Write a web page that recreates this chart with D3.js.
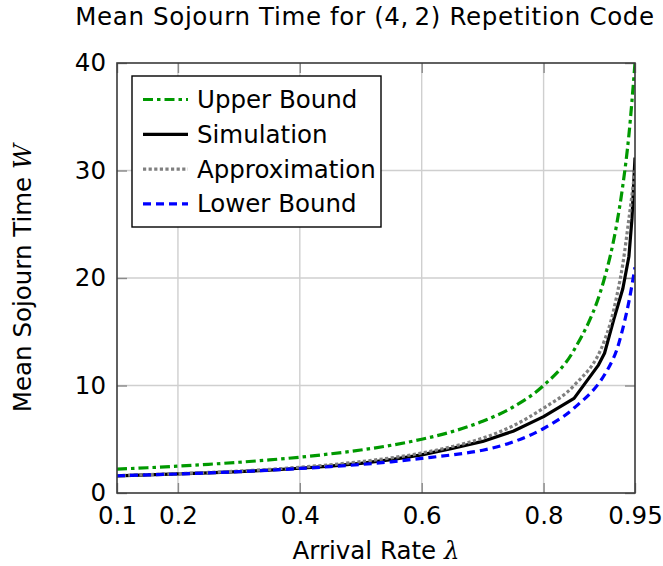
<!DOCTYPE html>
<html>
<head>
<meta charset="utf-8">
<script src="https://cdn.jsdelivr.net/npm/d3@7"></script>
<style>
    body { margin: 0; background: #fff; }
    #chart { width: 663px; height: 566px; }
    text { font-family: "DejaVu Sans", sans-serif; fill: #000; }
</style>
</head>
<body>
<div id="chart"></div>
<script>

// arrival rates for the analytic curves
const lambdas = [0.1, 0.15, 0.2, 0.25, 0.3, 0.35, 0.4, 0.45, 0.5, 0.55, 0.6, 0.65, 0.7, 0.75, 0.8, 0.85, 0.9, 0.91, 0.92, 0.93, 0.94, 0.95];
const upperBound = [2.22, 2.35, 2.5, 2.67, 2.86, 3.08, 3.33, 3.64, 4.0, 4.44, 5.0, 5.71, 6.67, 8.0, 10.0, 13.3, 20.0, 22.2, 25.0, 28.6, 33.3, 40.0];
const approximation = [1.62, 1.71, 1.8, 1.91, 2.04, 2.2, 2.4, 2.63, 2.92, 3.27, 3.72, 4.32, 5.1, 6.25, 7.9, 10.0, 14.2, 15.9, 18.3, 21.3, 25.5, 30.0];
const lowerBound = [1.6, 1.68, 1.77, 1.87, 1.98, 2.12, 2.28, 2.45, 2.65, 2.9, 3.22, 3.55, 3.98, 4.75, 6.0, 7.9, 11.0, 12.0, 13.3, 15.3, 17.8, 21.0];

// simulated points
const simLambdas = [0.1, 0.15, 0.2, 0.25, 0.3, 0.35, 0.4, 0.45, 0.5, 0.55, 0.6, 0.65, 0.7, 0.75, 0.8, 0.85, 0.89, 0.9, 0.915, 0.93, 0.94, 0.945, 0.95];
const simulation = [1.6, 1.68, 1.77, 1.87, 1.98, 2.12, 2.3, 2.5, 2.75, 3.1, 3.55, 4.15, 4.8, 5.75, 7.1, 8.8, 11.9, 13.0, 16.1, 19.0, 22.0, 25.5, 31.2];

const xTicks = [0.1, 0.2, 0.4, 0.6, 0.8, 0.95];
const yTicks = [0, 10, 20, 30, 40];

class SojournChart {

    constructor(parentElement) {
        this.parentElement = parentElement;
        this.initVis();
    }

    initVis() {
        let vis = this;

        vis.margin = {top: 63, right: 28, bottom: 73, left: 117};
        vis.width = 663 - vis.margin.left - vis.margin.right;
        vis.height = 566 - vis.margin.top - vis.margin.bottom;

        vis.root = d3.select("#" + vis.parentElement).append("svg")
            .attr("width", 663)
            .attr("height", 566);

        vis.svg = vis.root.append("g")
            .attr("transform", `translate(${vis.margin.left}, ${vis.margin.top})`);

        vis.x = d3.scaleLinear().domain([0.1, 0.95]).range([0, vis.width]);
        vis.y = d3.scaleLinear().domain([0, 40]).range([vis.height, 0]);

        // grid
        vis.svg.append("g").selectAll("line.vgrid")
            .data(xTicks.slice(1, -1))
            .enter().append("line")
            .attr("x1", d => vis.x(d)).attr("x2", d => vis.x(d))
            .attr("y1", 0).attr("y2", vis.height)
            .attr("stroke", "#cfcfcf").attr("stroke-width", 1.4);

        vis.svg.append("g").selectAll("line.hgrid")
            .data(yTicks.slice(1, -1))
            .enter().append("line")
            .attr("x1", 0).attr("x2", vis.width)
            .attr("y1", d => vis.y(d)).attr("y2", d => vis.y(d))
            .attr("stroke", "#cfcfcf").attr("stroke-width", 1.4);

        // axes (ticks inside, mirrored)
        vis.xAxis = d3.axisBottom(vis.x).tickValues(xTicks).tickSizeInner(-10).tickSizeOuter(0)
            .tickPadding(14).tickFormat(d => d === 0.95 ? "0.95" : d3.format(".1f")(d));
        vis.yAxis = d3.axisLeft(vis.y).tickValues(yTicks).tickSizeInner(-10).tickSizeOuter(0)
            .tickPadding(11).tickFormat(d3.format("d"));

        vis.xGroup = vis.svg.append("g")
            .attr("transform", `translate(0, ${vis.height})`)
            .call(vis.xAxis);
        vis.svg.append("g")
            .call(d3.axisTop(vis.x).tickValues(xTicks).tickSizeInner(-10).tickSizeOuter(0).tickFormat(""));
        vis.yGroup = vis.svg.append("g").call(vis.yAxis);
        vis.svg.append("g")
            .attr("transform", `translate(${vis.width}, 0)`)
            .call(d3.axisRight(vis.y).tickValues(yTicks).tickSizeInner(-10).tickSizeOuter(0).tickFormat(""));

        vis.svg.selectAll(".domain").remove();
        vis.svg.selectAll(".tick line").attr("stroke", "#8a8a8a").attr("stroke-width", 1.4);
        vis.svg.selectAll(".tick text")
            .style("font-family", "DejaVu Sans, sans-serif")
            .style("font-size", "24.5px")
            .attr("fill", "#000");

        vis.series = [
            {name: "Upper Bound", xs: lambdas, ys: upperBound, color: "#009900", dash: "10,4,3.5,4", smooth: true},
            {name: "Simulation", xs: simLambdas, ys: simulation, color: "#000000", dash: null, smooth: false},
            {name: "Approximation", xs: lambdas, ys: approximation, color: "#808080", dash: "3.2,2.4", smooth: true},
            {name: "Lower Bound", xs: lambdas, ys: lowerBound, color: "#0000ff", dash: "8,5", smooth: true}
        ];

        vis.line = d3.line()
            .x(d => vis.x(d[0]))
            .y(d => vis.y(d[1]));

        vis.svg.append("defs").append("clipPath").attr("id", "plotClip")
            .append("rect").attr("x", 0).attr("y", 0).attr("width", vis.width).attr("height", vis.height);

        vis.lineGroup = vis.svg.append("g").attr("clip-path", "url(#plotClip)");

        // frame
        vis.svg.append("rect")
            .attr("x", 0).attr("y", 0)
            .attr("width", vis.width).attr("height", vis.height)
            .attr("fill", "none")
            .attr("stroke", "#3a3a3a")
            .attr("stroke-width", 1.6);

        // titles
        vis.root.append("text")
            .attr("x", 365).attr("y", 25)
            .attr("text-anchor", "middle")
            .style("font-size", "24.5px")
            .style("letter-spacing", "0.65px")
            .text("Mean Sojourn Time for (4,\u20092) Repetition Code");

        let xt = vis.root.append("text")
            .attr("x", 376).attr("y", 559)
            .attr("text-anchor", "middle")
            .style("font-size", "24.5px");
        xt.append("tspan").text("Arrival Rate ");
        xt.append("tspan").style("font-family", "DejaVu Serif, serif").style("font-style", "italic").text("λ");

        let yt = vis.root.append("text")
            .attr("transform", `translate(31, ${vis.margin.top + vis.height / 2}) rotate(-90)`)
            .attr("text-anchor", "middle")
            .style("font-size", "24.5px");
        yt.append("tspan").text("Mean Sojourn Time ");
        yt.append("tspan").style("font-family", "DejaVu Serif, serif").style("font-style", "italic").text("W");

        vis.wrangleData();
    }

    wrangleData() {
        let vis = this;
        vis.displayData = vis.series.map(s => {
            return {
                name: s.name, color: s.color, dash: s.dash, smooth: s.smooth,
                points: s.xs.map((x, i) => [x, s.ys[i]])
            };
        });
        vis.updateVis();
    }

    updateVis() {
        let vis = this;

        vis.lineGroup.selectAll("path")
            .data(vis.displayData)
            .enter().append("path")
            .attr("d", d => vis.line.curve(d.smooth ? d3.curveMonotoneX : d3.curveLinear)(d.points))
            .attr("fill", "none")
            .attr("stroke", d => d.color)
            .attr("stroke-width", 3.2)
            .attr("stroke-dasharray", d => d.dash)
            .attr("stroke-linejoin", "round");

        // legend
        let legend = vis.root.append("g").attr("transform", "translate(132, 76)");
        legend.append("rect")
            .attr("width", 249).attr("height", 151)
            .attr("fill", "#fff")
            .attr("stroke", "#000")
            .attr("stroke-width", 1.4);

        let rows = legend.selectAll("g.entry")
            .data(vis.displayData)
            .enter().append("g")
            .attr("transform", (d, i) => `translate(0, ${23.5 + i * 34.8})`);

        rows.append("line")
            .attr("x1", 11).attr("x2", 56)
            .attr("stroke", d => d.color)
            .attr("stroke-width", 3.2)
            .attr("stroke-dasharray", d => d.dash);

        rows.append("text")
            .attr("x", 65)
            .attr("y", 8.5)
            .style("font-size", "24.5px")
            .text(d => d.name);
    }
}

new SojournChart("chart");
</script>
</body>
</html>
